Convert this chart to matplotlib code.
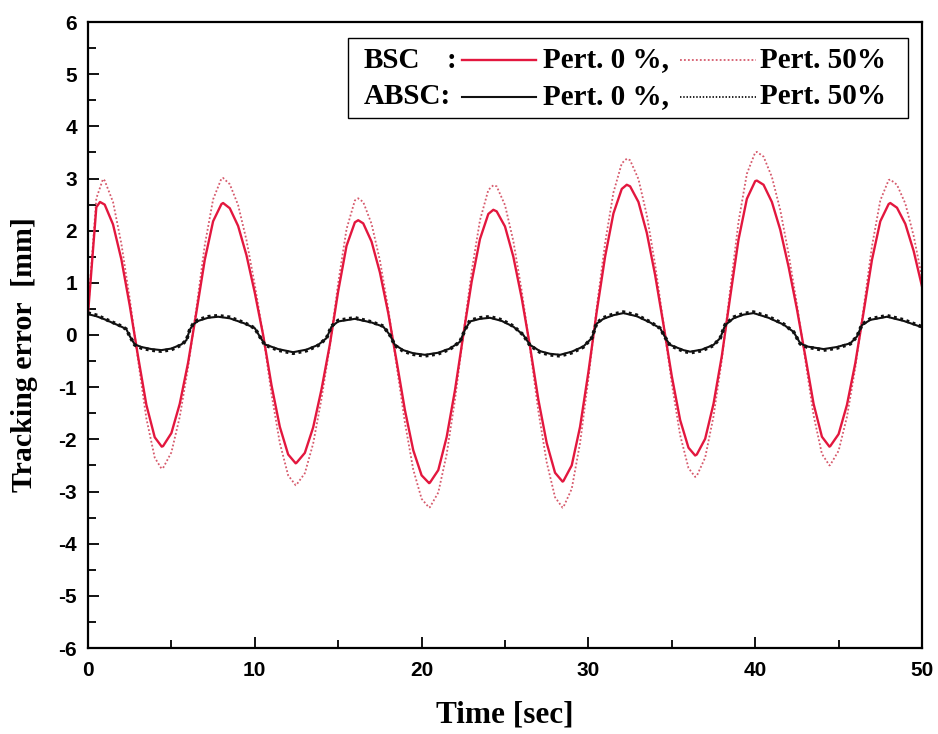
import numpy as np
import matplotlib
matplotlib.use("Agg")
import matplotlib.pyplot as plt
from matplotlib.lines import Line2D
from matplotlib.patches import Rectangle

W, H = 938, 734

# BSC tracking error, sampled every 0.5 s (0 .. 50 s)
time_bsc = np.arange(0, 50.01, 0.5)
bsc_p0 = [
    0.40, 2.45, 2.50, 2.12, 1.45, 0.57, -0.41, -1.34, -1.96, -2.13,
    -1.88, -1.32, -0.53, 0.44, 1.44, 2.18, 2.51, 2.43, 2.09, 1.53,
    0.81, 0.00, -0.96, -1.76, -2.29, -2.45, -2.26, -1.77, -1.04, -0.18,
    0.84, 1.71, 2.16, 2.14, 1.79, 1.20, 0.42, -0.50, -1.44, -2.21,
    -2.69, -2.83, -2.59, -1.96, -1.06, 0.00, 1.02, 1.84, 2.32, 2.37,
    2.08, 1.50, 0.71, -0.22, -1.24, -2.07, -2.64, -2.80, -2.50, -1.76,
    -0.71, 0.45, 1.50, 2.33, 2.80, 2.85, 2.55, 1.96, 1.15, 0.20,
    -0.79, -1.63, -2.16, -2.29, -1.99, -1.32, -0.40, 0.73, 1.83, 2.61,
    2.95, 2.88, 2.55, 2.02, 1.31, 0.50, -0.40, -1.32, -1.95, -2.13,
    -1.90, -1.34, -0.54, 0.44, 1.44, 2.18, 2.51, 2.44, 2.13, 1.61,
    0.93,
]
bsc_p50 = [
    0.45, 2.62, 2.96, 2.55, 1.75, 0.70, -0.48, -1.60, -2.35, -2.55,
    -2.25, -1.57, -0.62, 0.52, 1.72, 2.60, 3.00, 2.89, 2.49, 1.82,
    0.96, 0.00, -1.13, -2.07, -2.69, -2.87, -2.65, -2.08, -1.22, -0.21,
    1.00, 2.03, 2.58, 2.55, 2.13, 1.43, 0.50, -0.58, -1.68, -2.58,
    -3.14, -3.30, -3.02, -2.29, -1.24, 0.00, 1.22, 2.20, 2.78, 2.85,
    2.49, 1.80, 0.85, -0.26, -1.46, -2.44, -3.11, -3.30, -2.95, -2.07,
    -0.84, 0.53, 1.76, 2.73, 3.29, 3.35, 2.99, 2.30, 1.35, 0.23,
    -0.93, -1.92, -2.55, -2.70, -2.35, -1.56, -0.47, 0.87, 2.17, 3.09,
    3.50, 3.42, 3.03, 2.40, 1.56, 0.59, -0.47, -1.54, -2.28, -2.49,
    -2.22, -1.57, -0.63, 0.52, 1.70, 2.58, 2.97, 2.88, 2.52, 1.90,
    1.10,
]
# peaks and troughs (between the 0.5 s samples)
peak_t_p0 = [0.72, 4.42, 8.1, 12.45, 16.2, 20.45, 24.3, 28.45, 32.3, 36.4, 40.1, 44.45, 48.1]
peak_v_p0 = [2.55, -2.14, 2.53, -2.46, 2.20, -2.84, 2.40, -2.81, 2.88, -2.31, 2.96, -2.14, 2.53]
peak_t_p50 = [0.9, 4.4, 8.1, 12.45, 16.2, 20.45, 24.3, 28.45, 32.3, 36.4, 40.1, 44.45, 48.1]
peak_v_p50 = [2.99, -2.56, 3.01, -2.88, 2.62, -3.31, 2.87, -3.31, 3.38, -2.72, 3.51, -2.50, 2.98]

# ABSC tracking error, read at the corners of the curve
time_absc = [
    0.0, 0.5, 1.0, 1.5, 2.0, 2.3, 2.5, 2.8, 3.2, 3.8, 4.4, 5.0, 5.6, 5.9,
    6.1, 6.3, 6.6, 7.2, 7.8, 8.5, 9.4, 10.0, 10.3, 10.6, 11.4, 12.3, 13.1,
    13.8, 14.3, 14.6, 15.0, 16.0, 17.0, 17.7, 18.1, 18.4, 18.9, 19.5, 20.2,
    21.0, 21.7, 22.3, 22.6, 22.9, 23.5, 24.1, 24.8, 25.5, 26.1, 26.5, 27.1,
    27.7, 28.3, 29.0, 29.7, 30.2, 30.5, 30.9, 31.5, 32.1, 32.9, 33.7, 34.3,
    34.7, 34.9, 35.7, 36.1, 36.8, 37.5, 37.9, 38.2, 38.7, 39.3, 39.9, 40.8,
    41.7, 42.3, 42.7, 43.1, 44.1, 44.9, 45.7, 46.1, 46.4, 46.9, 47.9, 48.9,
    49.9, 50.0,
]
absc_p0 = [
    0.40, 0.36, 0.30, 0.23, 0.16, 0.11, -0.02, -0.18, -0.23, -0.27, -0.29, -0.26, -0.18, -0.10,
    0.10, 0.20, 0.27, 0.33, 0.35, 0.32, 0.22, 0.13, -0.03, -0.18, -0.27, -0.33, -0.28,
    -0.19, -0.06, 0.16, 0.26, 0.31, 0.24, 0.16, 0.00, -0.19, -0.29, -0.35, -0.38,
    -0.34, -0.26, -0.13, 0.10, 0.26, 0.31, 0.33, 0.27, 0.16, 0.00, -0.19, -0.31,
    -0.36, -0.38, -0.32, -0.22, -0.06, 0.22, 0.31, 0.38, 0.42, 0.36, 0.24, 0.13,
    -0.10, -0.19, -0.29, -0.32, -0.28, -0.19, -0.06, 0.19, 0.32, 0.39, 0.42, 0.33,
    0.20, 0.06, -0.16, -0.22, -0.27, -0.23, -0.16, -0.03, 0.19, 0.29, 0.35, 0.27,
    0.16, 0.15,
]
absc_p50 = [
    0.42, 0.38, 0.31, 0.24, 0.17, 0.11, -0.02, -0.19, -0.25, -0.29, -0.31, -0.28, -0.19, -0.10,
    0.10, 0.21, 0.29, 0.35, 0.37, 0.34, 0.23, 0.13, -0.03, -0.19, -0.29, -0.35, -0.30,
    -0.20, -0.06, 0.17, 0.28, 0.33, 0.25, 0.17, 0.00, -0.20, -0.31, -0.37, -0.40,
    -0.36, -0.27, -0.13, 0.10, 0.28, 0.33, 0.35, 0.29, 0.17, 0.00, -0.20, -0.33,
    -0.38, -0.40, -0.34, -0.23, -0.06, 0.23, 0.33, 0.40, 0.44, 0.38, 0.25, 0.13,
    -0.10, -0.20, -0.31, -0.34, -0.30, -0.20, -0.06, 0.20, 0.34, 0.41, 0.44, 0.35,
    0.21, 0.06, -0.17, -0.23, -0.29, -0.25, -0.17, -0.03, 0.20, 0.31, 0.37, 0.29,
    0.17, 0.16,
]

x_ticks = [0, 10, 20, 30, 40, 50]
y_ticks = list(range(-6, 7))

RED = "#e3173e"
RED_DOT = "#d65a6c"
BLACK = "#111111"
SERIF = "Liberation Serif"
SANS = "Liberation Sans"

plt.rcParams["axes.unicode_minus"] = False


def px(x, y):
    # pixel position -> figure fraction
    return x / W, 1 - y / H


def merged(t_grid, v_grid, t_extra, v_extra):
    t = np.concatenate([np.asarray(t_grid, float), t_extra])
    v = np.concatenate([np.asarray(v_grid, float), v_extra])
    order = np.argsort(t, kind="stable")
    return t[order], v[order]


def main():
    fig = plt.figure(figsize=(W / 100, H / 100), dpi=100)
    ax = fig.add_axes([88 / W, 1 - 648 / H, (922 - 88) / W, (648 - 22) / H])

    t50, v50 = merged(time_bsc, bsc_p50, peak_t_p50, peak_v_p50)
    t0, v0 = merged(time_bsc, bsc_p0, peak_t_p0, peak_v_p0)
    ax.plot(t50, v50, color=RED_DOT, ls=(0, (1, 1.2)), lw=1.3)
    ax.plot(t0, v0, color=RED, lw=1.7, solid_joinstyle="round")
    ax.plot(time_absc, absc_p50, color=BLACK, ls=(0, (0.8, 1.0)), lw=2.6)
    ax.plot(time_absc, absc_p0, color=BLACK, lw=1.5)

    ax.set_xlim(0, 50)
    ax.set_ylim(-6, 6)
    ax.set_xticks(x_ticks)
    ax.set_xticks([5, 15, 25, 35, 45], minor=True)
    ax.set_yticks(y_ticks)
    ax.set_yticks(np.arange(-5.5, 6, 1.0), minor=True)
    ax.tick_params(which="both", direction="in", top=False, right=False, width=1.3)
    ax.tick_params(which="major", length=8)
    ax.tick_params(which="minor", length=6)
    ax.tick_params(axis="y", pad=8)
    ax.tick_params(axis="x", pad=9)
    for lab in ax.get_xticklabels() + ax.get_yticklabels():
        lab.set_fontfamily(SANS)
        lab.set_fontweight("bold")
        lab.set_fontsize(15)
    for sp in ax.spines.values():
        sp.set_linewidth(1.6)

    fig.text(*px(25, 355), "Tracking error  [mm]", rotation=90, ha="center", va="center",
             fontsize=21.5, fontweight="bold", family=SERIF)
    fig.text(*px(505, 715), "Time [sec]", ha="center", va="center",
             fontsize=22.5, fontweight="bold", family=SERIF)

    # hand-built legend box
    x0, y0 = px(348, 118)
    x1, y1 = px(908, 38)
    fig.patches.append(Rectangle((x0, y0), x1 - x0, y1 - y0, transform=fig.transFigure,
                                 fill=False, edgecolor="black", linewidth=1.0))
    rows = [
        (60, "BSC", RED, RED_DOT, (0, (1, 1.2)), 1.7),
        (97, "ABSC:", BLACK, BLACK, (0, (0.8, 1.0)), 1.5),
    ]
    tk = dict(fontsize=21, fontweight="bold", family=SERIF, va="center", ha="left")
    for yy, name, c0, c50, ls50, lw0 in rows:
        fig.text(*px(364, yy), name, **tk)
        if name == "BSC":
            fig.text(*px(447, yy), ":", **tk)
        xa, ya = px(462, yy)
        xb, _ = px(536, yy)
        fig.lines.append(Line2D([xa, xb], [ya, ya], transform=fig.transFigure, color=c0, lw=lw0))
        fig.text(*px(543, yy), "Pert. 0 %,", **tk)
        xa, _ = px(680, yy)
        xb, _ = px(756, yy)
        fig.lines.append(Line2D([xa, xb], [ya, ya], transform=fig.transFigure, color=c50,
                                lw=1.3, ls=ls50))
        fig.text(*px(760, yy), "Pert. 50%", **tk)

    fig.savefig("out.png", dpi=100)


if __name__ == "__main__":
    main()
